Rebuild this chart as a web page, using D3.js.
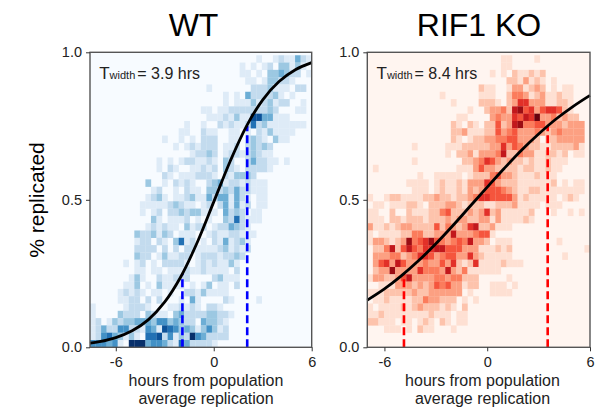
<!DOCTYPE html>
<html>
<head>
<meta charset="utf-8">
<script src="https://cdn.jsdelivr.net/npm/d3@7"></script>
<style>
  body { margin: 0; background: #fff; }
  text { font-family: "Liberation Sans", Arial, sans-serif; fill: #222; }
  .axis text { font-size: 14.5px; fill: #222; }
  .axis line, .axis path { stroke: #333; }
</style>
</head>
<body>
<div id="chart"></div>
<script>
const W = 599, H = 409;

// each row is one heatmap row, top to bottom, "column:level" for the non-empty cells
const wtRows = [
  "30:1 33:1 34:2 35:1 36:1 37:4 38:2 39:1",
  "27:1 29:1 31:1 32:2 34:3 35:3 36:1 37:3 38:1",
  "27:1 28:1 30:1 32:3 33:3 34:4 35:3 36:2 37:2 39:1",
  "28:1 29:1 31:1 32:3 33:3 34:2 35:2 36:1",
  "21:1 29:2 30:2 31:2 32:3 33:1 34:1 35:1 37:2 38:2",
  "24:1 26:1 28:4 29:2 30:2 31:2 32:2 33:3 34:1 36:1",
  "24:1 26:1 27:1 28:1 29:3 30:1 31:2 32:3 33:1 34:2 35:2 38:1",
  "20:1 21:1 23:1 24:1 25:2 26:2 27:2 28:2 29:2 30:2 31:2 32:3 33:2 37:1 38:1",
  "21:1 22:1 23:1 24:2 25:1 26:3 27:1 28:1 29:7 30:7 31:4 32:4 33:1 34:1 35:1",
  "17:1 20:1 23:2 24:1 25:2 26:1 27:1 28:2 29:6 30:2 31:3 32:1 33:1 34:1 35:1 36:1 37:1 38:1",
  "16:1 17:1 20:2 21:1 22:1 25:1 26:1 28:1 30:2 31:1 32:3 33:1 34:1 35:1 36:1",
  "13:1 16:1 18:1 20:2 21:2 22:2 25:1 26:1 28:2 29:3 30:2 31:1 33:3 34:1 35:1",
  "15:1 17:1 18:2 19:1 20:2 21:2 22:2 24:1 25:1 26:2 28:2 29:3 30:2 31:3 32:2",
  "18:1 19:2 20:2 21:3 22:2 24:1 25:2 26:2 27:1 28:2 29:3 30:2 31:1 32:1",
  "12:1 14:1 16:1 17:2 18:2 19:1 20:1 21:2 22:1 24:3 25:2 28:2 29:4 30:2 31:2 32:1 33:1 35:1",
  "12:1 14:2 15:1 18:1 19:1 20:2 21:1 22:2 24:3 25:2 26:1 28:2 29:2 30:2 31:2 32:1",
  "13:2 14:1 16:1 17:1 18:1 19:2 20:2 21:2 22:1 24:2 25:1 26:3 27:3 28:3 29:2",
  "10:3 13:1 15:2 16:1 17:2 18:1 21:2 22:3 23:4 24:1 25:2 26:2 27:1 28:2 29:1 30:1 31:1",
  "11:1 12:2 15:1 17:2 18:1 19:1 21:3 22:3 23:2 24:3 25:2 26:4 27:2 28:2 29:1 30:1 31:1",
  "10:1 11:2 12:3 13:1 15:1 16:1 17:2 18:3 19:1 20:1 21:4 22:2 23:4 24:4 25:1 26:4 27:2 28:1 30:1 31:1",
  "9:1 10:1 11:1 12:1 13:1 14:2 15:3 16:2 17:1 18:1 20:1 21:2 23:2 24:4 25:1 26:4 27:1 28:2 30:1 31:1",
  "9:1 11:1 12:2 14:2 15:2 16:3 17:2 18:3 19:3 20:1 21:1 22:1 24:4 25:2 26:3 27:2 29:1 30:1",
  "11:3 12:1 14:1 15:1 16:1 17:2 19:1 21:1 24:3 25:2 26:6 27:2 28:1 29:1 30:1",
  "10:1 11:2 12:1 13:2 14:1 15:1 17:3 18:1 19:2 20:2 22:1 23:2 24:2 25:4 26:3 27:2 28:1",
  "8:3 9:2 10:2 11:3 12:1 13:3 14:2 16:1 17:1 18:1 21:1 22:2 23:1 24:1 25:2 26:2 27:1 28:1 29:1",
  "8:1 9:2 10:2 12:2 13:1 15:3 16:6 17:1 18:2 20:1 22:2 23:1 24:4 25:1 26:2 27:3 28:1",
  "8:2 9:2 10:2 11:2 13:2 15:2 17:2 18:2 19:1 20:1 21:1 22:1 23:2 24:3 25:1 26:2 27:1 28:2",
  "8:3 9:2 10:2 12:1 13:3 14:1 15:1 16:2 17:2 19:1 20:2 21:2 22:2 23:1 24:2 25:2 26:3 27:2",
  "6:1 8:1 9:2 11:1 13:2 14:2 15:2 16:2 17:1 19:1 20:2 21:1 22:2 23:1 24:1 25:3 26:1",
  "8:1 9:1 11:1 12:1 14:1 15:1 16:1 17:2 18:1 19:1 20:2 21:1 22:1 23:1 24:1 26:2",
  "7:1 8:3 9:1 12:2 13:1 14:1 15:2 16:2 17:2 22:2 23:3 24:1 25:1 26:1",
  "6:1 7:1 8:3 10:1 12:3 13:1 14:1 15:1 16:1 18:1 20:1 21:3 23:1 24:1 26:2",
  "5:1 6:2 7:1 8:2 9:1 11:1 12:1 14:1 17:2 18:2 19:1 20:3 21:1 22:1 23:1 24:1",
  "5:1 6:1 7:2 8:2 10:2 12:2 16:1 18:4 19:1 24:2 25:1 30:1",
  "0:1 6:1 7:2 8:2 9:2 10:1 14:1 15:1 16:2 17:1 18:2 19:1 21:2 22:2 23:1",
  "0:1 5:3 6:2 7:2 8:2 10:3 11:2 12:1 13:1 15:3 16:4 17:2 18:2 19:2 20:2 21:3 22:3 23:2 24:2 25:1",
  "0:1 1:2 3:1 4:3 5:2 6:3 7:3 8:4 9:4 10:4 11:3 12:5 13:5 14:3 15:4 16:3 17:2 18:2 20:4 21:3 22:3 23:2 24:1",
  "0:1 1:2 2:4 3:2 4:2 5:5 6:5 7:2 8:2 9:1 10:5 11:4 12:1 13:7 14:6 15:5 16:3 17:4 18:3 19:1 20:3 21:5 22:3 23:1 24:2",
  "0:1 1:2 2:5 3:6 4:4 5:3 6:1 7:3 8:1 10:6 11:6 12:7 13:2 14:5 15:1 16:3 17:2 18:8 19:5 20:4 21:2 22:2 23:2 24:2",
  "0:5 1:5 2:5 3:4 4:5 5:1 7:8 8:8 9:8 10:4 11:5 12:5 13:4 14:2 15:1 16:6 17:4 18:2 19:2 20:2 21:2 22:1"
];

const koRows = [
  "24:1 25:1 30:1",
  "24:1 25:1",
  "22:1 24:1 26:2 27:1 28:1 29:2 30:1 31:2",
  "25:2 26:2 27:1 28:3 29:1 30:2 31:1 33:1",
  "20:2 21:1 22:1 25:1 26:3 27:3 28:1 29:2 30:3 31:2 33:1 35:1 36:1",
  "13:1 20:1 21:1 22:1 25:2 26:4 27:4 28:3 29:1 30:2 31:3 32:1 33:1 34:2 35:1 36:1",
  "15:1 20:2 21:2 22:2 23:1 25:2 26:3 27:6 28:6 29:3 30:3 31:3 32:1 33:1 34:2 35:2 36:1",
  "18:1 21:2 22:3 23:3 24:4 25:2 26:7 27:8 28:5 29:6 30:3 31:5 32:6 33:6 34:5 35:2 36:1",
  "16:1 17:1 22:3 23:4 24:3 25:3 26:6 27:5 28:7 29:6 30:9 31:3 32:3 33:4 34:2 35:3 36:2 37:2",
  "15:2 16:1 18:2 19:1 21:2 22:2 23:5 24:2 25:3 26:7 27:8 28:4 29:4 30:5 31:5 32:3 33:3 34:3 35:2 36:3 37:3 38:3",
  "15:2 16:2 17:3 18:1 19:1 20:1 21:2 22:2 23:5 24:3 25:4 26:5 27:3 28:3 29:3 30:4 31:3 32:2 33:3 34:4 35:3 36:3 37:3 38:3",
  "15:2 16:1 18:1 19:2 20:2 21:3 22:3 23:4 24:4 25:5 26:5 27:3 28:3 29:3 30:2 32:2 33:2 34:3 35:3 36:3 37:3 38:3",
  "8:1 14:1 15:1 16:1 17:2 18:2 19:2 20:2 21:2 22:3 23:3 24:6 25:3 26:5 27:4 28:3 29:2 30:2 31:1 32:1 33:2 34:2 35:2 36:2 37:3 38:1",
  "14:1 16:2 17:2 18:3 19:1 20:3 21:3 22:3 23:4 24:7 25:2 26:2 27:4 28:3 29:3 30:1 31:1 32:2 33:2 34:1 35:2 37:1 38:1",
  "8:1 17:2 18:2 19:3 20:4 21:6 22:5 23:3 24:2 25:3 26:2 27:2 28:1 29:2 30:1 31:1 32:2 33:1 34:1 35:1",
  "1:1 16:1 17:1 18:1 19:3 20:5 21:3 22:3 23:2 24:2 25:2 26:2 27:1 28:2 29:2 30:1 31:1 32:2 33:1 34:1",
  "9:1 12:1 13:1 14:1 15:1 16:1 18:1 19:2 20:2 21:2 22:4 23:5 24:3 25:3 26:2 27:1 28:1 29:1 30:2 31:1 32:1 33:1",
  "7:1 8:1 9:1 10:1 12:1 13:2 14:1 15:1 16:2 17:1 18:3 19:3 20:3 21:6 22:5 23:3 24:2 25:2 26:2 27:1 28:1 29:1 30:1 31:1 32:1 33:2 35:1 37:1 38:1",
  "8:1 9:1 10:1 12:1 13:2 14:1 15:1 16:2 17:1 18:3 19:2 20:3 21:5 22:5 23:5 24:4 25:3 26:2 27:1 28:1 29:2 30:2 31:1 32:1 33:1 34:1 35:1 36:1 37:1 38:1",
  "0:1 3:1 4:2 5:2 6:1 7:1 8:1 9:1 10:2 11:2 12:3 13:2 14:2 15:1 16:2 17:2 18:3 19:4 20:6 21:6 22:5 23:5 24:5 25:5 26:3 27:1 28:2 29:1 30:1 31:1 32:1 33:1 35:1 36:2 37:1",
  "1:1 2:1 4:1 5:1 6:1 7:2 8:2 9:1 11:2 12:2 13:2 14:3 15:3 16:2 17:1 18:2 19:2 20:2 21:1 22:1 23:2 24:2 25:2 26:3 27:1 28:1 29:1 30:1 32:1 33:1 34:1",
  "0:1 1:1 4:2 7:2 8:1 9:1 10:1 11:2 12:2 13:4 14:5 15:2 16:2 17:2 18:3 19:2 20:3 21:6 22:2 23:3 24:1 25:1 26:1 27:1 28:1 29:2 33:1 36:1 38:1",
  "0:1 1:1 2:1 4:2 5:2 6:1 7:2 8:2 9:2 10:1 11:2 12:2 13:2 14:3 15:2 16:3 17:3 18:2 19:2 20:3 21:3 22:1 23:3 24:1 25:1 26:1 27:1 28:2 29:1",
  "0:3 1:1 2:1 3:2 4:1 5:2 6:3 7:3 8:2 9:2 10:2 11:2 12:5 13:2 14:4 15:3 16:2 17:3 18:6 19:7 20:2 21:2 22:3 23:1 24:1 25:1",
  "0:1 2:1 3:1 4:1 5:1 6:2 7:2 8:4 9:4 10:2 11:2 12:3 13:3 14:3 15:7 16:3 17:3 18:3 19:4 20:5 21:5 22:1",
  "0:1 1:3 2:3 3:2 4:1 5:2 6:3 7:8 8:4 9:5 10:6 11:8 12:5 13:4 14:3 15:4 16:5 17:4 18:7 19:3 20:3 21:2 23:1 24:1 25:1 34:1",
  "1:2 2:2 3:4 4:7 5:2 6:5 7:7 8:5 9:4 10:6 11:6 12:7 13:7 14:5 15:5 16:5 17:3 18:3 19:3 20:1 21:1 22:1 23:2 24:1 25:2 39:1",
  "1:3 2:3 3:3 4:4 5:4 6:2 7:3 8:4 9:6 10:6 11:5 12:3 13:4 14:5 15:5 16:3 17:3 18:6 19:3 20:2 21:1 22:1 23:1 24:1 25:1 35:1",
  "1:3 2:5 3:6 4:3 5:7 6:5 7:3 8:3 9:3 10:4 11:3 12:3 13:5 14:3 15:6 16:2 17:1 18:2 19:6 20:1 21:1 22:1 23:1 24:2 25:1 26:1 27:1",
  "1:2 2:3 3:3 4:8 5:3 6:3 7:3 8:3 9:6 10:4 11:4 12:4 13:3 14:7 15:3 16:2 17:4 18:1 19:1 20:1 21:1 22:1 23:1",
  "0:1 1:3 2:3 3:2 4:2 5:3 6:5 7:7 8:3 9:3 10:3 11:3 12:4 13:4 14:3 15:4 16:4 17:2 18:2 19:2 25:1",
  "2:1 3:1 4:1 5:3 6:3 7:3 8:2 9:3 10:2 11:3 12:5 13:4 14:5 15:3 16:3 17:1 18:2 19:2 22:1 23:1 24:1 26:1",
  "0:1 1:1 2:1 3:2 4:2 5:2 6:2 7:2 8:3 9:2 10:2 11:3 12:3 13:3 14:3 15:3 16:3 18:1 22:1 23:1 24:1 25:1",
  "1:1 2:1 3:2 4:1 5:1 6:1 7:1 8:2 9:2 10:4 11:3 12:3 13:2 14:2 15:2 17:1 19:1",
  "0:1 2:1 3:1 4:1 5:1 6:2 7:1 8:2 9:3 10:2 11:2 12:2 13:1 14:2 15:1 17:2",
  "0:1 1:1 2:2 3:1 4:1 5:1 6:1 7:1 8:1 9:1 10:1 11:2 12:1 13:1 14:1 16:1 17:1",
  "0:2 1:2 2:1 3:1 4:1 6:1 7:1 9:1 10:2 11:1 13:2 14:1 16:1 17:1",
  "3:1 4:1 5:1 7:1 9:2 10:1 11:1 15:1",
  "",
  ""
];

// fitted curves
const wtHours = [-7.58, -7, -6, -5, -4, -3, -2, -1, 0, 1, 2, 3, 4, 5, 6];
const wtFit = [0.014, 0.019, 0.033, 0.056, 0.094, 0.154, 0.241, 0.357, 0.493, 0.63, 0.749, 0.839, 0.901, 0.941, 0.965];
const koHours = [-7, -6, -5, -4, -3, -2, -1, 0, 1, 2, 3, 4, 5, 6];
const koFit = [0.16, 0.198, 0.243, 0.294, 0.351, 0.413, 0.478, 0.543, 0.607, 0.668, 0.723, 0.773, 0.816, 0.854];

// 25% and 75% marks
const wtMarkHours = [-1.92, 2.05];
const koMarkHours = [-4.86, 3.53];
const markLevels = [0.25, 0.75];

const xTicks = [-6, 0, 6];
const yTicks = [0, 0.5, 1];

const svg = d3.select("#chart").append("svg").attr("width", W).attr("height", H);

function panel(o) {
  const x = d3.scaleLinear().domain(o.xDomain).range([o.left, o.right]);
  const y = d3.scaleLinear().domain([0, 1]).range([347.3, 52.3]);
  const col = d3.scaleBand().domain(d3.range(40)).range([o.left, o.right]);
  const row = d3.scaleBand().domain(d3.range(40)).range([y(0.99), y(0)]);
  const color = d3.scaleSequential(o.ramp).domain([0, o.maxLevel]);

  const g = svg.append("g");
  g.append("rect").attr("x", o.left).attr("y", y(1))
    .attr("width", o.right - o.left).attr("height", y(0) - y(1))
    .attr("fill", color(0));

  const cells = o.rows.flatMap((s, r) => s ? s.split(" ").map(p => {
    const [c, v] = p.split(":").map(Number);
    return {r, c, v};
  }) : []);
  g.selectAll("rect.cell").data(cells).join("rect")
    .attr("class", "cell")
    .attr("x", d => col(d.c))
    .attr("y", d => row(d.r))
    .attr("width", col.bandwidth() + 0.2)
    .attr("height", row.bandwidth() + 0.2)
    .attr("fill", d => color(d.v));

  // dashed marks go from the axis up to the curve
  g.selectAll("line.mark").data(o.marks).join("line")
    .attr("class", "mark")
    .attr("x1", d => x(d)).attr("x2", d => x(d))
    .attr("y1", y(0)).attr("y2", (d, i) => y(markLevels[i]))
    .attr("stroke", o.dash).attr("stroke-width", 2.6)
    .attr("stroke-dasharray", "8,4");

  const line = d3.line().x(d => x(d[0])).y(d => y(d[1])).curve(d3.curveCatmullRom);
  g.append("path").datum(d3.zip(o.hours, o.fit))
    .attr("d", line).attr("fill", "none")
    .attr("stroke", "#000").attr("stroke-width", 2.8);

  g.append("rect").attr("x", o.left).attr("y", y(1))
    .attr("width", o.right - o.left).attr("height", y(0) - y(1))
    .attr("fill", "none").attr("stroke", "#555").attr("stroke-width", 1.4);

  g.append("g").attr("class", "axis").attr("transform", `translate(0,${y(0)})`)
    .call(d3.axisBottom(x).tickValues(xTicks).tickSize(4).tickPadding(5).tickFormat(String))
    .call(a => a.select(".domain").remove());
  g.append("g").attr("class", "axis").attr("transform", `translate(${o.left},0)`)
    .call(d3.axisLeft(y).tickValues(yTicks).tickSize(4).tickPadding(4).tickFormat(d3.format(".1f")))
    .call(a => a.select(".domain").remove());

  g.append("text").attr("x", o.titleX).attr("y", 36).attr("text-anchor", "middle")
    .attr("font-size", 32).style("fill", "#000").text(o.title);
  g.append("text").attr("x", o.labelX).attr("y", 386).attr("text-anchor", "middle")
    .attr("font-size", 16).text("hours from population");
  g.append("text").attr("x", o.labelX).attr("y", 404).attr("text-anchor", "middle")
    .attr("font-size", 16).text("average replication");

  const t = g.append("text").attr("x", o.left + 9.2).attr("y", 78.5).attr("font-size", 16);
  t.append("tspan").attr("font-size", 17).text("T");
  t.append("tspan").attr("font-size", 11).text("width");
  t.append("tspan").attr("dx", 2).text("= " + o.width);
}

panel({
  title: "WT", titleX: 193.5, labelX: 206, left: 90, right: 311.7, xDomain: [-7.58, 6],
  rows: wtRows, ramp: d3.interpolateBlues, maxLevel: 8, dash: "#0000ff",
  hours: wtHours, fit: wtFit, marks: wtMarkHours, width: "3.9 hrs"
});
panel({
  title: "RIF1 KO", titleX: 479, labelX: 482.5, left: 367.3, right: 590, xDomain: [-7, 6],
  rows: koRows, ramp: d3.interpolateReds, maxLevel: 9, dash: "#ff0000",
  hours: koHours, fit: koFit, marks: koMarkHours, width: "8.4 hrs"
});

svg.append("text")
  .attr("transform", "translate(44,200) rotate(-90)")
  .attr("text-anchor", "middle").attr("font-size", 21).style("fill", "#000")
  .text("% replicated");
</script>
</body>
</html>
